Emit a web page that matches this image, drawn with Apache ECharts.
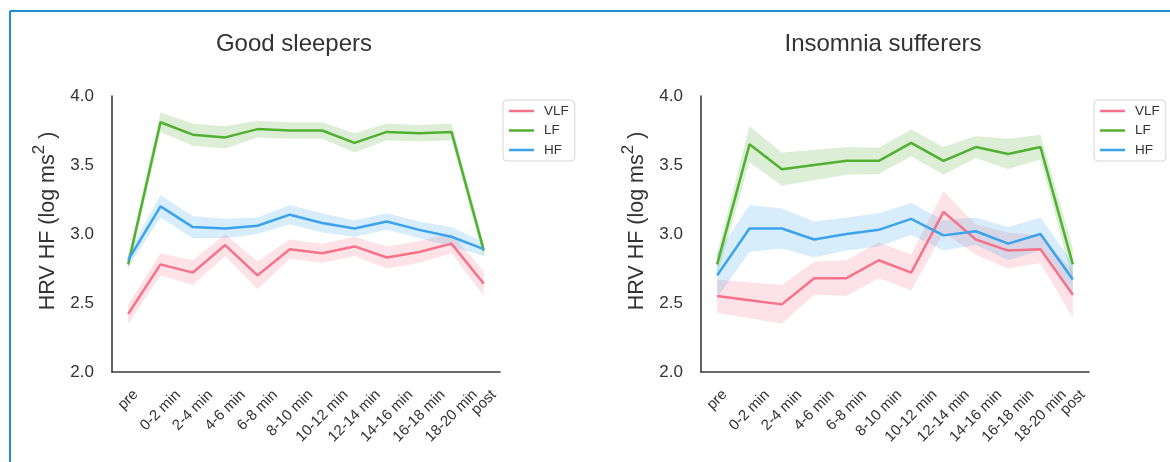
<!DOCTYPE html>
<html>
<head>
<meta charset="utf-8">
<script src="https://cdn.jsdelivr.net/npm/echarts@6/dist/echarts.min.js"></script>
<style>
html,body{margin:0;padding:0;background:#fff;}
#chart{width:1170px;height:462px;}
</style>
</head>
<body>
<div id="chart"></div>
<script>
// ---- data ----
const categories = ['pre','0-2 min','2-4 min','4-6 min','6-8 min','8-10 min','10-12 min','12-14 min','14-16 min','16-18 min','18-20 min','post'];
const yTicks = [2.0, 2.5, 3.0, 3.5, 4.0];
const seriesNames = ['VLF','LF','HF'];

// Good sleepers (means)
const goodVLF = [2.42,2.78,2.72,2.92,2.70,2.89,2.86,2.91,2.83,2.87,2.93,2.64];
const goodLF  = [2.78,3.81,3.72,3.70,3.76,3.75,3.75,3.66,3.74,3.73,3.74,2.88];
const goodHF  = [2.81,3.20,3.05,3.04,3.06,3.14,3.08,3.04,3.09,3.03,2.98,2.89];
// Good sleepers (confidence half-widths)
const goodVLFci = [0.07,0.08,0.09,0.08,0.10,0.07,0.07,0.07,0.08,0.08,0.07,0.09];
const goodLFci  = [0.05,0.07,0.08,0.08,0.06,0.06,0.06,0.07,0.06,0.06,0.06,0.05];
const goodHFci  = [0.05,0.08,0.08,0.07,0.06,0.07,0.07,0.06,0.06,0.06,0.07,0.05];

// Insomnia sufferers (means)
const insVLF = [2.55,2.52,2.49,2.68,2.68,2.81,2.72,3.16,2.96,2.88,2.89,2.56];
const insLF  = [2.78,3.65,3.47,3.50,3.53,3.53,3.66,3.53,3.63,3.58,3.63,2.78];
const insHF  = [2.70,3.04,3.04,2.96,3.00,3.03,3.11,2.99,3.02,2.93,3.00,2.67];
// Insomnia sufferers (confidence half-widths)
const insVLFci = [0.12,0.13,0.14,0.12,0.13,0.13,0.13,0.15,0.11,0.13,0.10,0.17];
const insLFci  = [0.08,0.13,0.12,0.11,0.10,0.095,0.097,0.10,0.08,0.11,0.09,0.12];
const insHFci  = [0.16,0.17,0.145,0.13,0.12,0.12,0.115,0.11,0.10,0.12,0.12,0.12];

const colors = ['#f77189','#50b131','#3ba3ec'];
const textColor = '#333';
const axisColor = '#3a3a3a';
const font = '"Liberation Sans", Arial, sans-serif';
const xLabelSize = 15;

const panels = [
  {means:[goodVLF,goodLF,goodHF], ci:[goodVLFci,goodLFci,goodHFci]},
  {means:[insVLF,insLF,insHF], ci:[insVLFci,insLFci,insHFci]}
];

const series = [];
panels.forEach((p, pi) => {
  p.means.forEach((m, si) => {
    const ci = p.ci[si];
    const lower = m.map((v,i)=> +(v - ci[i]).toFixed(4));
    const band = ci.map(c => +(2*c).toFixed(4));
    const stack = 'band'+pi+'_'+si;
    series.push({
      type:'line', name:'_lo'+pi+si, xAxisIndex:pi, yAxisIndex:pi, stack:stack,
      data:lower, symbol:'none', lineStyle:{opacity:0}, silent:true, z:1
    });
    series.push({
      type:'line', name:'_band'+pi+si, xAxisIndex:pi, yAxisIndex:pi, stack:stack,
      data:band, symbol:'none', lineStyle:{opacity:0},
      areaStyle:{color:colors[si], opacity:0.2}, silent:true, z:1
    });
  });
  p.means.forEach((m, si) => {
    series.push({
      type:'line', name:seriesNames[si], xAxisIndex:pi, yAxisIndex:pi,
      data:m, symbol:'none', color:colors[si],
      lineStyle:{width:2.5, color:colors[si]}, z:3
    });
  });
});

// rotated tick labels centred under their tick (matplotlib style):
// shift each label by half of its rotated extent via padding
const ctx = document.createElement('canvas').getContext('2d');
ctx.font = xLabelSize + 'px "Liberation Sans", Arial, sans-serif';
const xRich = {};
categories.forEach((c, i) => {
  const L = ctx.measureText(c).width;
  const p = Math.round((L + xLabelSize) / 2);
  xRich['c'+i] = {padding:[p, p, 0, 0], fontSize:xLabelSize, color:textColor, fontFamily:font};
});

const grids = [
  {left:112, top:96, width:388, height:276},
  {left:701, top:96, width:388, height:276}
];

function xAxis(i){
  return {
    type:'category', gridIndex:i, data:categories, boundaryGap:true,
    axisLine:{show:true, lineStyle:{color:axisColor, width:1.6}},
    axisTick:{show:false},
    axisLabel:{interval:0, rotate:45, align:'center', verticalAlign:'middle',
      fontSize:xLabelSize, color:textColor, fontFamily:font, margin:15,
      formatter:(v, idx) => '{c' + idx + '|' + v + '}', rich:xRich},
    splitLine:{show:false}
  };
}
function yAxis(i){
  return {
    type:'value', gridIndex:i, min:yTicks[0], max:yTicks[yTicks.length-1], interval:0.5,
    axisLine:{show:true, lineStyle:{color:axisColor, width:1.6}},
    axisTick:{show:false},
    splitLine:{show:false},
    axisLabel:{fontSize:17, color:textColor, fontFamily:font, margin:18,
      formatter:v=>v.toFixed(1)},
    name:'{a|HRV HF (log ms}{b|2}{a| )}',
    nameLocation:'middle', nameGap:53,
    nameTextStyle:{
      color:textColor, fontFamily:font, padding:[0,0,0,26],
      rich:{
        a:{fontSize:21.5, color:textColor, fontFamily:font, lineHeight:28, verticalAlign:'bottom'},
        b:{fontSize:17, color:textColor, fontFamily:font, lineHeight:28, verticalAlign:'top'}
      }
    }
  };
}

function legend(left){
  return {
    data:seriesNames, orient:'vertical', left:left, top:100,
    icon:'rect', itemWidth:25, itemHeight:2.5, itemGap:5.5,
    padding:[4,6,4,6],
    borderColor:'#d6d6d6', borderWidth:1, borderRadius:4,
    textStyle:{fontSize:13.5, color:textColor, fontFamily:font, width:34, padding:[0,0,0,5]}
  };
}

const option = {
  animation:false,
  backgroundColor:'#fff',
  title:[
    {text:'Good sleepers', left:289, top:27, textAlign:'center',
     textStyle:{fontSize:24, fontWeight:'normal', color:textColor, fontFamily:font}},
    {text:'Insomnia sufferers', left:878, top:27, textAlign:'center',
     textStyle:{fontSize:24, fontWeight:'normal', color:textColor, fontFamily:font}}
  ],
  legend:[legend(503), legend(1094)],
  grid:grids,
  xAxis:[xAxis(0), xAxis(1)],
  yAxis:[yAxis(0), yAxis(1)],
  series:series,
  graphic:[
    {type:'line', shape:{x1:10, y1:11, x2:1170, y2:11}, style:{stroke:'#1a8fd0', lineWidth:2}, silent:true},
    {type:'line', shape:{x1:10, y1:11, x2:10, y2:462}, style:{stroke:'#1a8fd0', lineWidth:2}, silent:true}
  ]
};

const chart = echarts.init(document.getElementById('chart'), null, {renderer:'canvas'});
chart.setOption(option);
</script>
</body>
</html>
